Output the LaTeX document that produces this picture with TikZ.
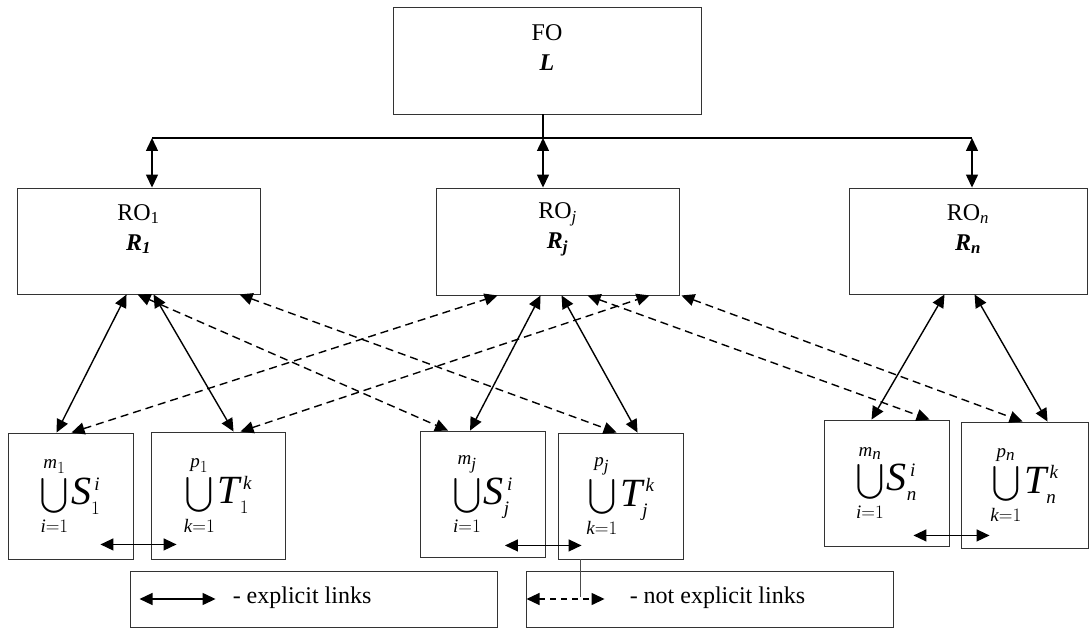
\RequirePackage{fix-cm}
\documentclass[tikz,border=0pt]{standalone}
\usepackage{exscale}
\usepackage{fontspec}
\setmainfont{Liberation Serif}
\usetikzlibrary{arrows.meta,calc}
% script sizes used in the set formulas
\DeclareMathSizes{36}{36}{19}{17}
\DeclareMathSizes{40}{40}{19}{17}
% italic letters in formulas taken from the text font
\newcommand{\mi}[1]{\mathit{#1}}
% a union of sets with small limits and a large set symbol
\newcommand{\setunion}[5]{%
  {\fontsize{36}{36}\selectfont$\displaystyle\bigcup\limits_{#1}^{#2}$}%
  \hspace{3pt}%
  {\fontsize{40}{40}\selectfont$\mi{#3}_{#4}^{\,#5}$}}
\tikzset{
  box/.style={draw=black!80, line width=0.9pt, rectangle, inner sep=0pt},
  lbl/.style={font=\fontsize{24}{30}\selectfont, align=center, inner sep=0pt},
  head/.tip={Triangle[length=13pt,width=12pt]},
  link/.style={line width=1.4pt, head-head},
  nlink/.style={link, dash pattern=on 8pt off 5pt},
  setbox/.style={box, minimum width=125pt, minimum height=126pt},
  legbox/.style={box, minimum width=367pt, minimum height=56pt},
  bus/.style={line width=1.4pt}
}
\begin{document}
\begin{tikzpicture}[x=1pt,y=-1pt]
\useasboundingbox (0,0) rectangle (1090,628);

% top level and regional boxes
\node[box, minimum width=308pt, minimum height=107pt] (FO) at (547,60.5) {};
\node[lbl] (FOt) at ([yshift=12.5pt]FO.center) {FO\\\textbf{\textit{L}}};

\node[box, minimum width=243pt, minimum height=106pt] (RO1) at (138.5,241) {};
\node[lbl] (RO1t) at ([yshift=12pt]RO1.center) {RO\textsubscript{1}\\\textbf{\textit{R\textsubscript{1}}}};

\node[box, minimum width=243pt, minimum height=107pt] (ROj) at (557.5,241.5) {};
\node[lbl] (ROjt) at ([yshift=12pt]ROj.center) {RO\textsubscript{\textit{j}}\\\textbf{\textit{R\textsubscript{j}}}};

\node[box, minimum width=238pt, minimum height=106pt] (ROn) at (968,241) {};
\node[lbl] (ROnt) at ([yshift=12pt]ROn.center) {RO\textsubscript{\textit{n}}\\\textbf{\textit{R\textsubscript{n}}}};

% set boxes
\node[setbox] (S1) at (70.5,496) {\setunion{\mi{i}=1}{\mi{m}_1}{S}{1}{\mi{i}}};
\node[setbox, minimum width=134pt, minimum height=127pt] (T1) at (218,495.5) {\setunion{\mi{k}=1}{\mi{p}_1}{T}{1}{\mi{k}}};
\node[setbox] (Sj) at (483,494) {\setunion{\mi{i}=1}{\mi{m}_{\mi{j}}}{S}{\mi{j}}{\mi{i}}};
\node[setbox] (Tj) at (620.5,496) {\setunion{\mi{k}=1}{\mi{p}_{\mi{j}}}{T}{\mi{j}}{\mi{k}}};
\node[setbox] (Sn) at (886.5,483) {\setunion{\mi{i}=1}{\mi{m}_{\mi{n}}}{S}{\mi{n}}{\mi{i}}};
\node[setbox, minimum width=127pt] (Tn) at (1024.5,485) {\setunion{\mi{k}=1}{\mi{p}_{\mi{n}}}{T}{\mi{n}}{\mi{k}}};

% legend boxes
\node[legbox] (Leg1) at (313.5,599) {};
\node[legbox] (Leg2) at (709.5,599) {};

% bus from FO to the regional offices
\coordinate (busC) at (543,138);
\coordinate (busL) at (152,138);
\coordinate (busR) at (972,138);
\draw[bus] (FO.south -| busC) -- (busC);
\draw[bus] (busL) -- (busR);
\draw[link] (busL) -- (busL |- RO1.north);
\draw[link] (busC) -- (busC |- ROj.north);
\draw[link] (busR) -- (busR |- ROn.north);

% explicit links between regional offices and their sets
\draw[link] ([xshift=110pt]RO1.south west) -- ([xshift=49pt]S1.north west);
\draw[link] ([xshift=137pt]RO1.south west) -- ([xshift=83pt]T1.north west);
\draw[link] ([xshift=105pt]ROj.south west) -- ([xshift=50pt]Sj.north west);
\draw[link] ([xshift=126pt]ROj.south west) -- ([xshift=80pt]Tj.north west);
\draw[link] ([xshift=96pt]ROn.south west) -- ([xshift=48pt]Sn.north west);
\draw[link] ([xshift=126pt]ROn.south west) -- ([xshift=87pt]Tn.north west);

% not explicit links
\draw[nlink] ([xshift=64pt]S1.north west) -- ([xshift=62pt]ROj.south west);
\draw[nlink] ([xshift=90pt]T1.north west) -- ([xshift=214pt]ROj.south west);
\draw[nlink] ([xshift=121pt]RO1.south west) -- ([xshift=28pt]Sj.north west);
\draw[nlink] ([xshift=223pt]RO1.south west) -- ([xshift=59pt]Tj.north west);
\draw[nlink] ([xshift=152pt]ROj.south west) -- ([xshift=106pt]Sn.north west);
\draw[nlink] ([xshift=2pt]ROj.south east) -- ([xshift=62pt]Tn.north west);

% explicit links between the two sets of each region
\draw[link] ($(S1.south east)+(-33,-15)$) -- ($(T1.south west)+(26,-15)$);
\draw[link] ($(Sj.south east)+(-41,-12)$) -- ($(Tj.south west)+(24,-14)$);
\draw[link] ($(Sn.south east)+(-36,-11)$) -- ($(Tn.south west)+(29,-13)$);

% legend
\draw[link] ($(Leg1.west)+(10,0)$) -- ($(Leg1.west)+(86,0)$);
\node[lbl, anchor=west] (Leg1t) at ($(Leg1.west)+(103,-1)$) {- explicit links};
\draw[nlink, dash pattern=on 6pt off 5pt] ($(Leg2.west)+(1,0)$) -- ($(Leg2.west)+(79,0)$);
\node[lbl, anchor=west] (Leg2t) at ($(Leg2.west)+(104,-1)$) {- not explicit links};
\coordinate (drop) at (580,597);
\draw[draw=black!70, line width=0.8pt] (drop |- Tj.south) -- (drop);
\end{tikzpicture}
\end{document}
